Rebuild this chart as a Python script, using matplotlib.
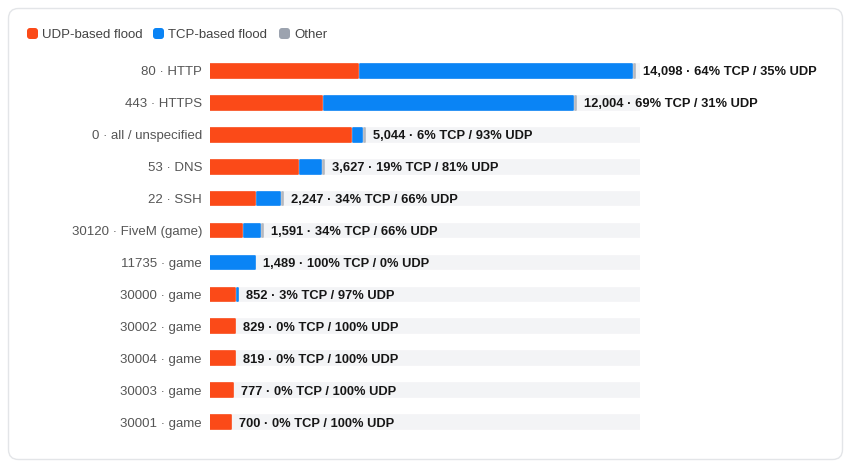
import matplotlib
matplotlib.use('Agg')
import matplotlib.pyplot as plt
from matplotlib.patches import FancyBboxPatch

plt.rcParams['font.family'] = ['Liberation Sans', 'DejaVu Sans']

# data (attack counts per destination port)
ports = ['80 · HTTP', '443 · HTTPS', '0 · all / unspecified', '53 · DNS', '22 · SSH',
         '30120 · FiveM (game)', '11735 · game', '30000 · game', '30002 · game',
         '30004 · game', '30003 · game', '30001 · game']
totals = [14098, 12004, 5044, 3627, 2247, 1591, 1489, 852, 829, 819, 777, 700]
tcp_pct = [64, 69, 6, 19, 34, 34, 100, 3, 0, 0, 0, 0]
udp_pct = [35, 31, 93, 81, 66, 66, 0, 97, 100, 100, 100, 100]
udp = [4934, 3721, 4691, 2938, 1483, 1050, 0, 826, 829, 819, 777, 700]
tcp = [9023, 8283, 303, 689, 764, 541, 1489, 26, 0, 0, 0, 0]
other = [60, 20, 20, 10, 10, 8, 0, 0, 0, 0, 0, 0]

C_UDP = '#fb4a18'
C_TCP = '#0a84f5'
C_OTHER = '#b4b8c0'
C_TRACK = '#f3f4f6'

W, H = 850, 467
fig = plt.figure(figsize=(W / 100, H / 100), dpi=100)

# background overlay in pixel coordinates (card + legend)
bg = fig.add_axes([0, 0, 1, 1])
bg.set_xlim(0, W)
bg.set_ylim(H, 0)
bg.axis('off')
bg.add_patch(FancyBboxPatch((8.5, 8.5), 834, 451, boxstyle='round,pad=0,rounding_size=10',
                            facecolor='white', edgecolor='#e3e5e8', linewidth=1))
legend_items = [('UDP-based flood', C_UDP, 27), ('TCP-based flood', C_TCP, 153), ('Other', '#9ca3af', 279)]
for name, col, x0 in legend_items:
    bg.add_patch(FancyBboxPatch((x0, 28), 11, 11, boxstyle='round,pad=0,rounding_size=3',
                                facecolor=col, edgecolor='none'))
    bg.text(x0 + 15, 33.5, name, fontsize=9.5, color='#444444', va='center_baseline', ha='left')

# bar axes: track spans x = 210..640 px, rows from y = 55..438 px
ax = fig.add_axes([210 / W, 1 - 438 / H, 430 / W, 383 / H])
XMAX = 14300
ax.set_xlim(0, XMAX)
n = len(ports)
ax.set_ylim(n - 0.5, -0.5)
ax.axis('off')

px = XMAX / 430.0  # data units per pixel
gap = 2.0 * px
minw = 1.2 * px
bh = 0.43

for i in range(n):
    ax.barh(i, XMAX, height=bh, color=C_TRACK, edgecolor=C_TRACK, linewidth=1.2,
            joinstyle='round', zorder=1)
    left = 0
    for val, col in [(udp[i], C_UDP), (tcp[i], C_TCP), (other[i], C_OTHER)]:
        if val <= 0:
            continue
        w = max(val, minw)
        ax.barh(i, w, left=left, height=bh, color=col, edgecolor=col, linewidth=1.2,
                joinstyle='round', zorder=2)
        left += w + gap
    end = left - gap
    label = f'{totals[i]:,} · {tcp_pct[i]}% TCP / {udp_pct[i]}% UDP'
    ax.text(end + 8 * px, i, label, fontsize=9.3, fontweight='bold', color='#161616',
            va='center_baseline', ha='left', clip_on=False, zorder=3)
    ax.text(-8 * px, i, ports[i], fontsize=9.5, color='#555555', va='center_baseline',
            ha='right', clip_on=False)

fig.savefig('out.png', dpi=100)
